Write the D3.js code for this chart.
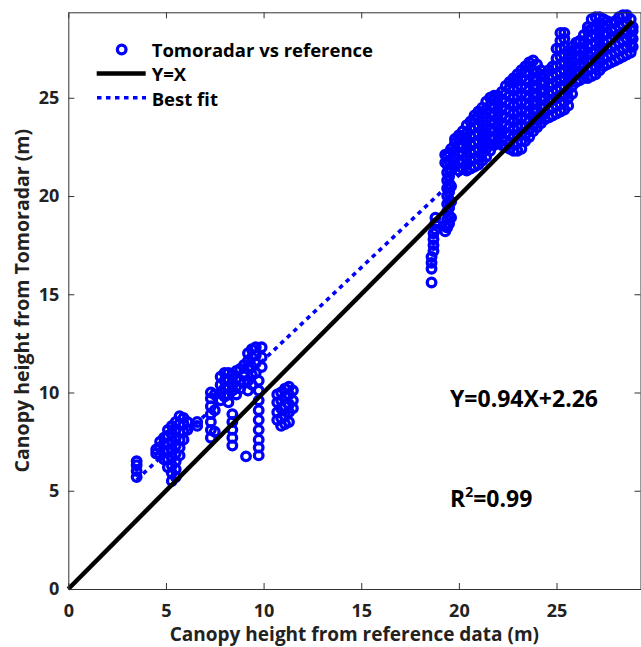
<!DOCTYPE html>
<html>
<head>
<meta charset="utf-8">
<script src="https://cdn.jsdelivr.net/npm/d3@7"></script>
<style>
  body { margin: 0; background: #fff; }
  svg { display: block; font-family: "Open Sans", "DejaVu Sans", sans-serif; font-weight: 700; }
</style>
</head>
<body>
<svg id="chart" width="641" height="647"></svg>
<script>
// canopy heights, one entry per reference height:
// [reference height (m), [tomoradar heights (m)]]
var lowStand = [
    [3.5,[5.7,6.0,6.3,6.5]],
    [4.5,[6.9,7.1]],
    [4.7,[6.8,7.2,7.5]],
    [4.9,[6.6,7.0,7.4,7.7]],
    [5.1,[6.2,6.6,7.0,7.4,7.8,8.1]],
    [5.3,[5.5,5.9,6.3,6.7,7.1,7.5,7.9,8.3]],
    [5.5,[5.7,6.1,6.5,6.9,7.3,7.7,8.1,8.5]],
    [5.7,[6.8,7.2,7.6,8.0,8.4,8.8]],
    [5.9,[7.6,8.0,8.4,8.7]],
    [6.1,[8.1,8.5]],
    [6.6,[8.3,8.5]],
    [7.3,[7.7,8.1,8.5,8.9,9.3,9.7,10.0]],
    [7.5,[8.0,9.1,9.9]],
    [7.8,[9.6,10.0,10.4,10.8]],
    [8.0,[9.8,10.2,10.6,11.0]],
    [8.2,[9.5,9.9,10.3,10.7,11.0]],
    [8.4,[7.3,7.7,8.1,8.5,8.9,10.1,10.5,10.9]],
    [8.6,[9.9,10.3,10.7,11.1]],
    [8.8,[10.2,10.6,11.2]],
    [9.0,[10.5,11.0,11.4]],
    [9.1,[6.75]],
    [9.2,[10.1,10.6,11.2,11.6,12.0]],
    [9.4,[10.4,10.9,11.3,11.8,12.2]],
    [9.6,[11.0,11.5,11.9,12.3]],
    [9.75,[6.8,7.2,7.6,8.1,8.6,9.1,9.6,10.1,10.6]],
    [9.9,[11.3,11.8,12.3]],
    [10.7,[8.6,9.0,9.5,9.9]],
    [10.9,[8.3,8.7,9.2,9.6,10.0]],
    [11.1,[8.4,8.8,9.3,9.8,10.2]],
    [11.3,[8.5,9.0,9.4,9.9,10.3]],
    [11.5,[9.2,9.6,10.1]]
];

var midStand = [
    [18.6,[15.6,16.3,16.6,16.9]],
    [18.7,[17.2,17.5,17.8,18.1]],
    [18.8,[18.3,18.6,18.9]],
    [19.3,[18.2,18.5,21.7,22.1]],
    [19.4,[18.4,18.8,19.2,19.6,20.0,20.4,20.8,21.2,21.6,22.0]],
    [19.5,[18.6,19.0,19.4,19.8,20.2,20.6,21.0,21.4,21.8,22.2]],
    [19.6,[18.9,19.7,20.5,21.3,22.4]]
];

var tallStand = [
    [19.8,[21.5,21.9,22.3,22.7,22.9]],
    [20.0,[21.3,21.7,22.1,22.5,22.9,23.1]],
    [20.2,[21.4,21.8,22.2,22.6,23.0,23.3]],
    [20.4,[21.3,21.6,22.0,22.4,22.8,23.2,23.6]],
    [20.6,[21.4,21.8,22.2,22.6,23.0,23.4,23.8]],
    [20.8,[21.5,21.9,22.3,22.7,23.1,23.5,23.9,24.1]],
    [21.0,[21.6,22.0,22.4,22.8,23.2,23.6,24.0,24.3]],
    [21.2,[21.8,22.2,22.6,23.0,23.4,23.8,24.2,24.5]],
    [21.4,[22.0,22.4,22.8,23.2,23.6,24.0,24.4,24.8]],
    [21.6,[22.3,22.6,23.0,23.4,23.8,24.2,24.6,25.0]],
    [21.8,[22.6,22.9,23.3,23.7,24.1,24.5,24.9,25.1]],
    [22.0,[22.7,23.1,23.5,23.9,24.3,24.7,25.1]],
    [22.2,[22.6,22.9,23.3,23.7,24.1,24.5,24.9,25.3]],
    [22.4,[22.5,22.8,23.2,23.6,24.0,24.4,24.8,25.2,25.6]],
    [22.6,[22.4,22.7,23.1,23.5,23.9,24.3,24.7,25.1,25.5,25.8]],
    [22.8,[22.3,22.6,23.0,23.4,23.8,24.2,24.6,25.0,25.4,25.8,26.0]],
    [23.0,[22.3,22.7,23.1,23.5,23.9,24.3,24.7,25.1,25.5,25.9,26.2]],
    [23.2,[22.4,22.8,23.2,23.6,24.0,24.4,24.8,25.2,25.6,26.0,26.4]],
    [23.4,[22.8,23.1,23.5,23.9,24.3,24.7,25.1,25.5,25.9,26.3,26.6]],
    [23.6,[23.0,23.4,23.8,24.2,24.6,25.0,25.4,25.8,26.2,26.6,26.8]],
    [23.8,[23.3,23.6,24.0,24.4,24.8,25.2,25.6,26.0,26.4,26.9]],
    [24.0,[23.5,23.9,24.3,24.7,25.1,25.5,25.9,26.3,26.7]],
    [24.2,[23.7,24.1,24.5,24.9,25.3,25.7,26.1,26.4]],
    [24.4,[23.9,24.2,24.6,25.0,25.4,25.8,26.2]],
    [24.6,[24.0,24.4,24.8,25.2,25.6,26.0,26.4]],
    [24.8,[24.1,24.5,24.9,25.3,25.7,26.1,26.6]],
    [25.0,[24.2,24.6,25.0,25.4,25.8,26.2,26.6,27.0,27.5]],
    [25.2,[24.3,24.7,25.1,25.5,25.9,26.3,26.7,27.1,27.5,27.9,28.3]],
    [25.4,[24.4,24.8,25.2,25.6,26.0,26.4,26.8,27.2,27.6,28.0,28.3]],
    [25.6,[24.6,25.0,25.4,25.8,26.2,26.6,27.0,27.4]],
    [25.8,[25.2,25.6,26.0,26.4,26.8,27.2,27.6]],
    [26.0,[25.8,26.2,26.6,27.0,27.4,27.8]],
    [26.2,[25.9,26.3,26.7,27.1,27.5,27.9]],
    [26.4,[26.0,26.2,26.6,27.0,27.4,27.8,28.2]],
    [26.6,[26.0,26.4,26.8,27.2,27.6,28.0,28.4,28.6]],
    [26.8,[26.1,26.5,26.9,27.3,27.7,28.1,28.5,29.0]],
    [27.0,[26.2,26.6,27.0,27.4,27.8,28.2,28.6,29.1]],
    [27.2,[26.4,26.8,27.2,27.6,28.0,28.4,28.8,29.1]],
    [27.4,[26.6,27.0,27.4,27.8,28.2,28.6,29.0]],
    [27.6,[26.7,27.1,27.5,27.9,28.3,28.7,28.9]],
    [27.8,[26.8,27.2,27.6,28.0,28.4,28.8]],
    [28.0,[26.9,27.3,27.7,28.1,28.5,28.9]],
    [28.2,[27.0,27.4,27.8,28.2,28.6,29.1]],
    [28.4,[27.1,27.5,27.9,28.3,28.7,29.2]],
    [28.6,[27.2,27.6,28.0,28.4,28.8,29.2]],
    [28.8,[27.3,27.7,28.1,28.5,29.0]],
    [28.9,[27.6,28.0,28.4,28.6]]
];

var tickValues = [0, 5, 10, 15, 20, 25];
var fitSlope = 0.94, fitIntercept = 2.26, rSquared = 0.99;
var legendLabels = ["Tomoradar vs reference", "Y=X", "Best fit"];

function draw() {

    var svg = d3.select("#chart");
    var blue = "#0000ff", axisColor = "#333";

    // flatten the columns into [ref, tomo] points
    var points = [];
    lowStand.concat(midStand, tallStand).forEach(function(col) {
        col[1].forEach(function(t) { points.push([col[0], t]); });
    });

    var x = d3.scaleLinear().domain([0, 29.3]).range([68.3, 640.5]);
    var y = d3.scaleLinear().domain([0, 29.35]).range([589, 12.3]);

    var xMin = d3.min(points, function(d) { return d[0]; }),
        xMax = d3.max(points, function(d) { return d[0]; });

    // best fit under the markers
    svg.append("line")
        .attr("x1", x(xMin)).attr("y1", y(fitSlope * xMin + fitIntercept))
        .attr("x2", x(xMax)).attr("y2", y(fitSlope * xMax + fitIntercept))
        .attr("stroke", blue)
        .attr("stroke-width", 3.6)
        .attr("stroke-dasharray", "4.5,4.5");

    svg.append("g")
        .selectAll("circle")
        .data(points)
        .enter()
        .append("circle")
        .attr("cx", function(d) { return x(d[0]); })
        .attr("cy", function(d) { return y(d[1]); })
        .attr("r", 4.3)
        .attr("fill", "none")
        .attr("stroke", blue)
        .attr("stroke-width", 3.3);

    // Y=X
    svg.append("line")
        .attr("x1", x(0)).attr("y1", y(0))
        .attr("x2", x(xMax)).attr("y2", y(xMax))
        .attr("stroke", "#000")
        .attr("stroke-width", 4.5);

    // axes box, ticks pointing inward
    var bottom = svg.append("g")
        .attr("transform", "translate(0," + y(0) + ")")
        .call(d3.axisBottom(x).tickValues(tickValues).tickSizeInner(-6).tickSizeOuter(0).tickPadding(15));
    var left = svg.append("g")
        .attr("transform", "translate(" + x(0) + ",0)")
        .call(d3.axisLeft(y).tickValues(tickValues).tickSizeInner(-6).tickSizeOuter(0).tickPadding(9));
    var top = svg.append("g")
        .attr("transform", "translate(0," + y.range()[1] + ")")
        .call(d3.axisTop(x).tickValues(tickValues).tickSizeInner(-6).tickSizeOuter(0).tickFormat(""));
    var right = svg.append("g")
        .attr("transform", "translate(" + x.range()[1] + ",0)")
        .call(d3.axisRight(y).tickValues(tickValues).tickSizeInner(-6).tickSizeOuter(0).tickFormat(""));

    [bottom, left, top, right].forEach(function(g) {
        g.selectAll("path, line").attr("stroke", axisColor).attr("stroke-width", 1);
        g.selectAll("text")
            .attr("fill", "#222")
            .style("font-family", "'Open Sans', sans-serif")
            .style("font-weight", 700)
            .style("font-size", "18px");
    });

    // axis titles
    svg.append("text")
        .attr("x", (x.range()[0] + x.range()[1]) / 2)
        .attr("y", 640.5)
        .attr("text-anchor", "middle")
        .style("font-size", "19px")
        .attr("fill", "#222")
        .text("Canopy height from reference data (m)");

    svg.append("text")
        .attr("transform", "translate(28.5," + (y.range()[0] + y.range()[1]) / 2 + ") rotate(-90)")
        .attr("text-anchor", "middle")
        .style("font-size", "19.5px")
        .attr("fill", "#222")
        .text("Canopy height from Tomoradar (m)");

    // legend
    var legend = svg.append("g");
    legend.append("circle")
        .attr("cx", 121.7).attr("cy", 49.5).attr("r", 4.3)
        .attr("fill", "none").attr("stroke", blue).attr("stroke-width", 3.3);
    legend.append("line")
        .attr("x1", 96.7).attr("x2", 145.7).attr("y1", 73.5).attr("y2", 73.5)
        .attr("stroke", "#000").attr("stroke-width", 4.5);
    legend.append("line")
        .attr("x1", 97).attr("x2", 146).attr("y1", 97.7).attr("y2", 97.7)
        .attr("stroke", blue).attr("stroke-width", 3.6).attr("stroke-dasharray", "4.5,4.5");
    legend.selectAll("text")
        .data(legendLabels)
        .enter()
        .append("text")
        .attr("x", 151.7)
        .attr("y", function(d, i) { return 56.7 + i * 24.4; })
        .style("font-size", "18.5px")
        .attr("fill", "#000")
        .text(function(d) { return d; });

    // fit equation and R^2
    svg.append("text")
        .attr("x", 450).attr("y", 406.7)
        .style("font-size", "23px")
        .attr("fill", "#000")
        .text("Y=" + fitSlope + "X+" + fitIntercept);

    var r2 = svg.append("text")
        .attr("x", 450).attr("y", 506.7)
        .style("font-size", "23px")
        .attr("fill", "#000");
    r2.append("tspan").text("R");
    r2.append("tspan").attr("dy", -10).style("font-size", "14px").text("2");
    r2.append("tspan").attr("dy", 10).text("=" + rSquared);
} //draw

draw();
</script>
</body>
</html>
